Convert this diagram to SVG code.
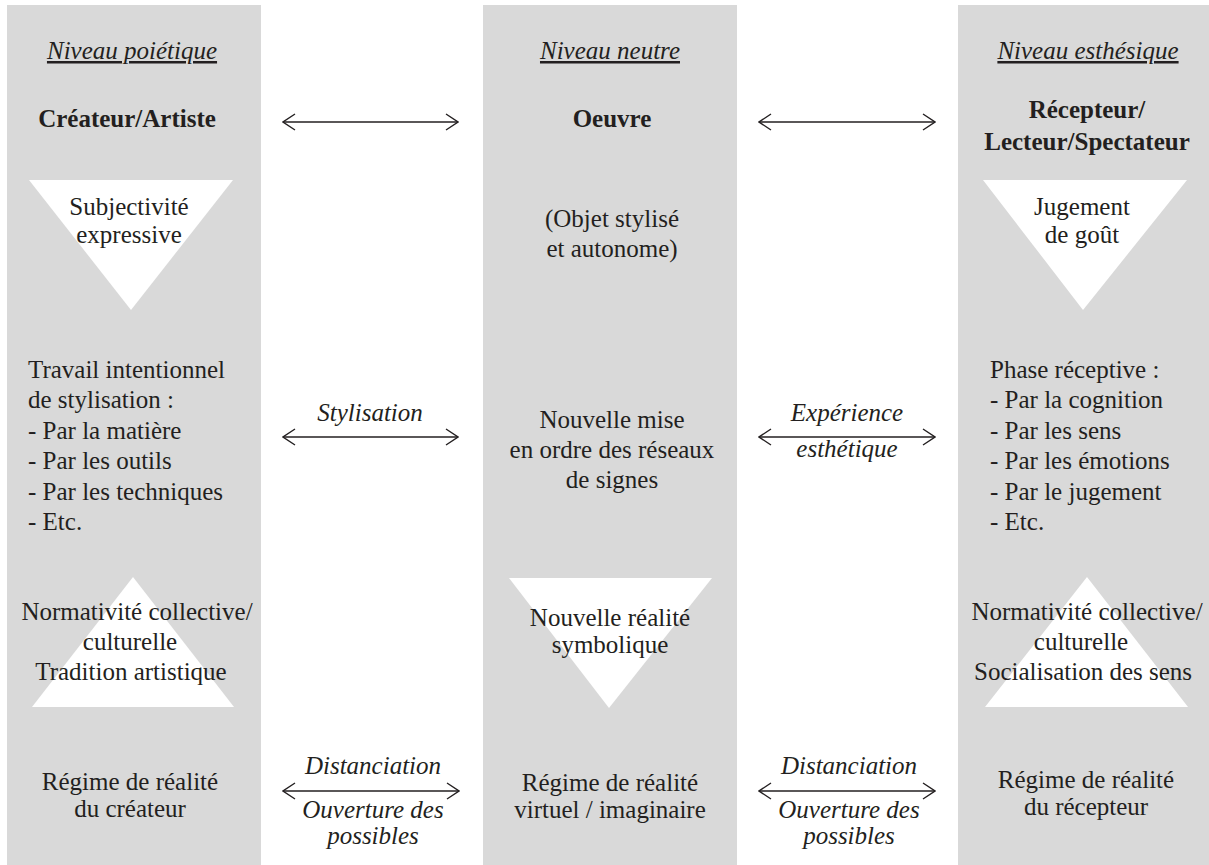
<svg xmlns="http://www.w3.org/2000/svg" width="1209" height="865" viewBox="0 0 1209 865">
<defs>
<style>
.col{fill:#d9d9d9}
.tri{fill:#ffffff}
text{font-family:'Liberation Serif','Times New Roman',serif;font-size:25px;fill:#231f20}
.c{text-anchor:middle}
.b{font-weight:bold}
.i{font-style:italic}
.u{text-decoration:underline}
.arr{stroke:#231f20;stroke-width:1.4;fill:none;marker-start:url(#ah);marker-end:url(#ah)}
</style>
<marker id="ah" viewBox="0 0 14 18" refX="13" refY="9" markerWidth="14" markerHeight="18" markerUnits="userSpaceOnUse" orient="auto-start-reverse">
<path d="M1,1 L13,9 L1,17" fill="none" stroke="#231f20" stroke-width="1.4"/>
</marker>
</defs>
<rect width="1209" height="865" fill="#ffffff"/>

<g id="col-poietique">
<rect class="col" x="7" y="5" width="254" height="860"/>
<text class="c i u" x="132" y="59">Niveau poiétique</text>
<text class="c b" x="127" y="127">Créateur/Artiste</text>
<polygon class="tri" points="29,180 233,180 131,310"/>
<text class="c"><tspan x="129" y="215">Subjectivité</tspan><tspan x="129" y="243">expressive</tspan></text>
<text><tspan x="28" y="378">Travail intentionnel</tspan><tspan x="28" y="408">de stylisation :</tspan><tspan x="28" y="439">- Par la matière</tspan><tspan x="28" y="469">- Par les outils</tspan><tspan x="28" y="500">- Par les techniques</tspan><tspan x="28" y="530">- Etc.</tspan></text>
<polygon class="tri" points="133,577 234,707 32,707"/>
<text class="c"><tspan x="137" y="620">Normativité collective/</tspan><tspan x="130" y="650">culturelle</tspan><tspan x="131" y="680">Tradition artistique</tspan></text>
<text class="c"><tspan x="130" y="790">Régime de réalité</tspan><tspan x="130" y="817">du créateur</tspan></text>
</g>

<g id="col-neutre">
<rect class="col" x="483" y="5" width="254" height="860"/>
<text class="c i u" x="610" y="59">Niveau neutre</text>
<text class="c b" x="612" y="127">Oeuvre</text>
<text class="c"><tspan x="612" y="227">(Objet stylisé</tspan><tspan x="612" y="257">et autonome)</tspan></text>
<text class="c"><tspan x="612" y="428">Nouvelle mise</tspan><tspan x="612" y="458">en ordre des réseaux</tspan><tspan x="612" y="488">de signes</tspan></text>
<polygon class="tri" points="509,578 712,578 609,708"/>
<text class="c"><tspan x="610" y="626">Nouvelle réalité</tspan><tspan x="610" y="653">symbolique</tspan></text>
<text class="c"><tspan x="610" y="791">Régime de réalité</tspan><tspan x="610" y="818">virtuel / imaginaire</tspan></text>
</g>

<g id="col-esthesique">
<rect class="col" x="958" y="5" width="254" height="860"/>
<text class="c i u" x="1088" y="59">Niveau esthésique</text>
<text class="c b"><tspan x="1087" y="118">Récepteur/</tspan><tspan x="1087" y="150">Lecteur/Spectateur</tspan></text>
<polygon class="tri" points="983,180 1187,180 1083,310"/>
<text class="c"><tspan x="1082" y="215">Jugement</tspan><tspan x="1082" y="243">de goût</tspan></text>
<text><tspan x="990" y="378">Phase réceptive :</tspan><tspan x="990" y="408">- Par la cognition</tspan><tspan x="990" y="439">- Par les sens</tspan><tspan x="990" y="469">- Par les émotions</tspan><tspan x="990" y="500">- Par le jugement</tspan><tspan x="990" y="530">- Etc.</tspan></text>
<polygon class="tri" points="1087,577 1188,707 985,707"/>
<text class="c"><tspan x="1087" y="620">Normativité collective/</tspan><tspan x="1081" y="650">culturelle</tspan><tspan x="1083" y="680">Socialisation des sens</tspan></text>
<text class="c"><tspan x="1086" y="788">Régime de réalité</tspan><tspan x="1086" y="815">du récepteur</tspan></text>
</g>

<g id="connectors">
<line class="arr" x1="283" y1="122" x2="458" y2="122"/>
<line class="arr" x1="759" y1="122" x2="935" y2="122"/>
<line class="arr" x1="283" y1="437" x2="458" y2="437"/>
<text class="c i" x="370" y="421">Stylisation</text>
<line class="arr" x1="759" y1="437" x2="935" y2="437"/>
<text class="c i" x="847" y="421">Expérience</text>
<text class="c i" x="847" y="457">esthétique</text>
<line class="arr" x1="283" y1="791" x2="459" y2="791"/>
<text class="c i" x="373" y="774">Distanciation</text>
<text class="c i"><tspan x="373" y="818">Ouverture des</tspan><tspan x="373" y="844">possibles</tspan></text>
<line class="arr" x1="759" y1="791" x2="935" y2="791"/>
<text class="c i" x="849" y="774">Distanciation</text>
<text class="c i"><tspan x="849" y="818">Ouverture des</tspan><tspan x="849" y="844">possibles</tspan></text>
</g>
</svg>
